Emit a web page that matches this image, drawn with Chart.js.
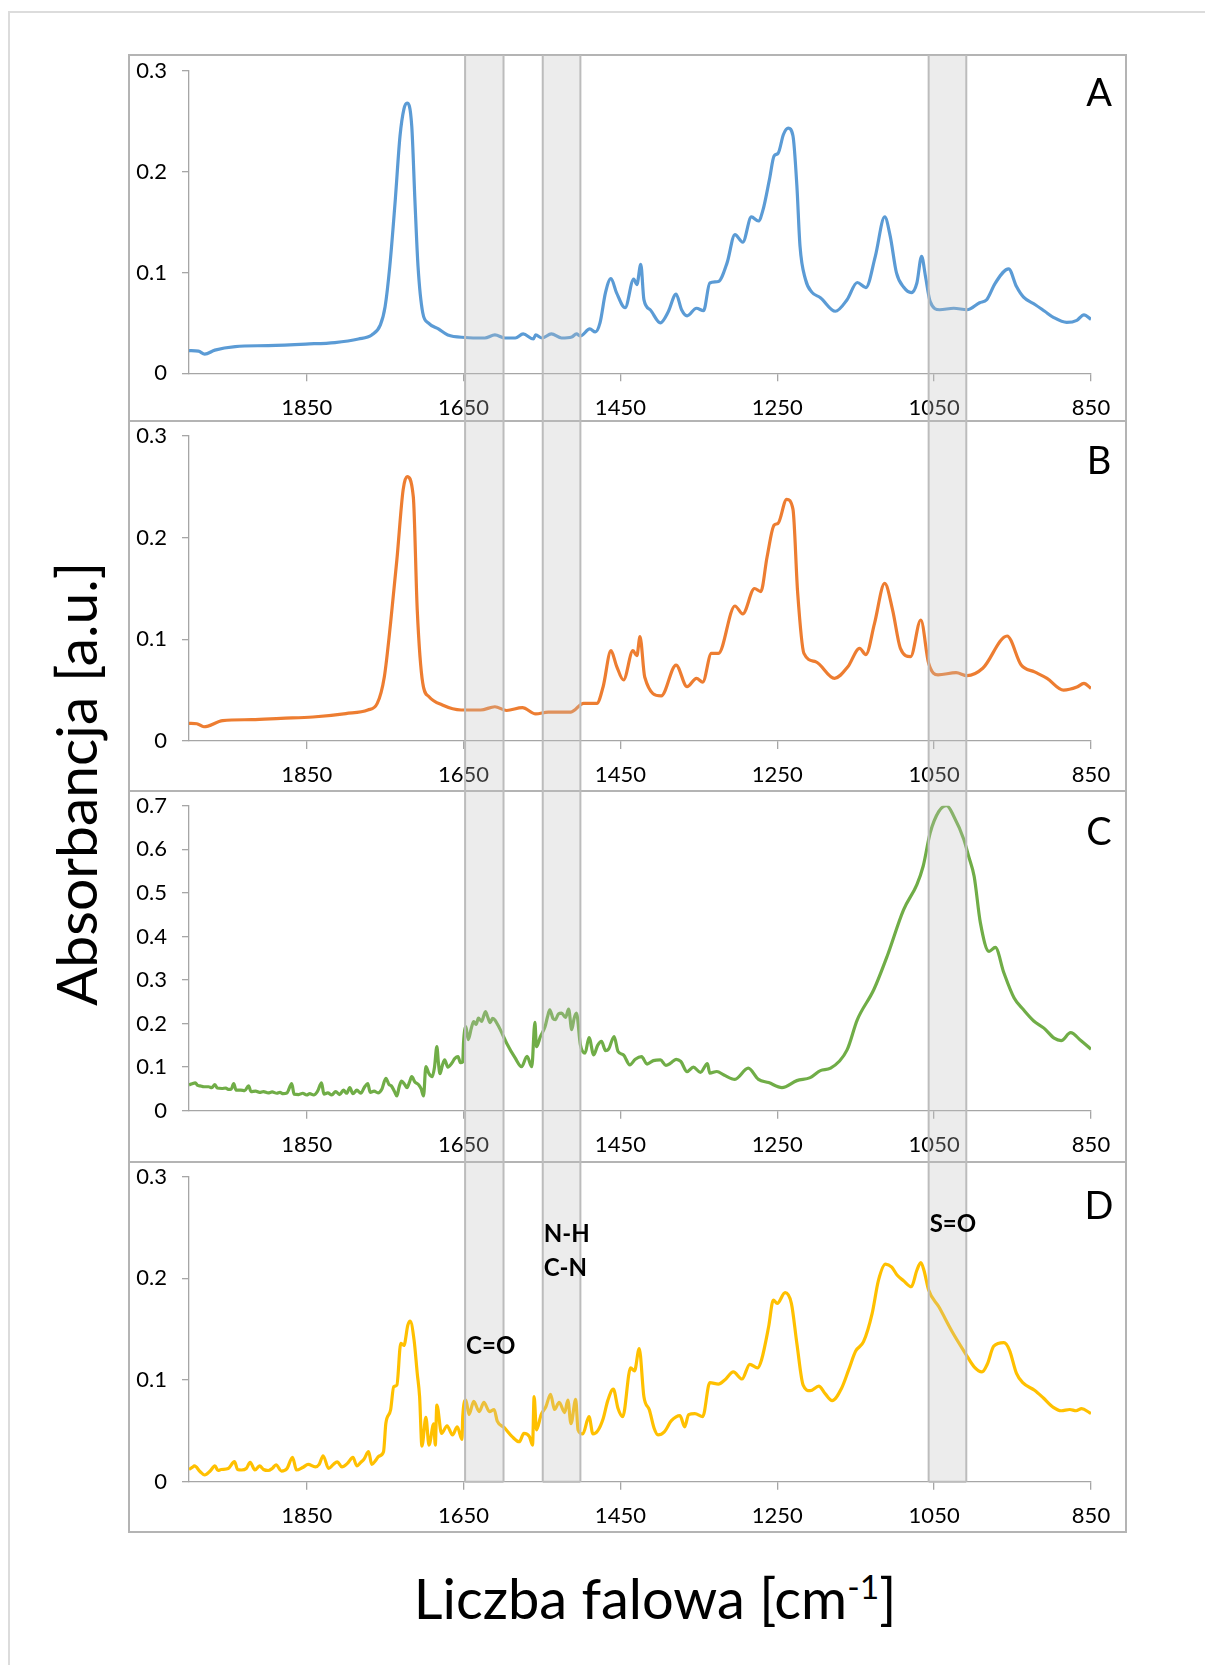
<!DOCTYPE html>
<html>
<head>
<meta charset="utf-8">
<script src="https://cdn.jsdelivr.net/npm/chart.js@4.4.1/dist/chart.umd.min.js"></script>
<style>
    html, body { margin: 0; padding: 0; background: #fff; }
    body { width: 1205px; height: 1665px; position: relative; overflow: hidden; font-family: Lato, sans-serif; color: #000; }
    .outer { position: absolute; left: 8px; top: 11px; width: 1300px; height: 1700px; border-left: 2px solid #dcdcdc; border-top: 2px solid #dcdcdc; }
    .panel { position: absolute; left: 128px; width: 999px; box-sizing: border-box; border: 2px solid #b4b4b4; border-bottom: none; }
    .panel.last { border-bottom: 2px solid #b4b4b4; }
    canvas { position: absolute; left: 129px; }
    .ytitle { position: absolute; left: 75px; top: 784px; transform: translate(-50%, -50%) rotate(-90deg); white-space: nowrap; font-size: 57px; line-height: 1; }
    .xtitle { position: absolute; left: 655px; top: 1570px; transform: translateX(-50%); white-space: nowrap; font-size: 56px; line-height: 1; }
    .xtitle sup { font-size: 0.6em; line-height: 0; vertical-align: 0.6em; }
</style>
</head>
<body>
<div class="outer"></div>
<div class="panel" style="top:54px;height:367px"></div>
<div class="panel" style="top:420px;height:370px"></div>
<div class="panel" style="top:790px;height:371px"></div>
<div class="panel last" style="top:1161px;height:372px"></div>

<canvas id="chartA" width="997" height="366" style="top:55px"></canvas>
<canvas id="chartB" width="997" height="370" style="top:421px"></canvas>
<canvas id="chartC" width="997" height="371" style="top:791px"></canvas>
<canvas id="chartD" width="997" height="371" style="top:1162px"></canvas>

<div class="ytitle">Absorbancja [a.u.]</div>
<div class="xtitle">Liczba falowa [cm<sup>-1</sup>]</div>

<script>
// wavenumber ticks and absorbance ticks
const xTicks = [1850, 1650, 1450, 1250, 1050, 850];
const yTicksSmall = [0, 0.1, 0.2, 0.3];
const yTicksC = [0, 0.1, 0.2, 0.3, 0.4, 0.5, 0.6, 0.7];

// grey bands (from, to) in cm-1
const bands = [[1648, 1599], [1549, 1501], [1057, 1009]];

// panel A
const waveA = [2000, 1988, 1980, 1967, 1941, 1899, 1851, 1814, 1784, 1767, 1756, 1750, 1744, 1737, 1731, 1726, 1722, 1716, 1712, 1708,
    1702, 1695, 1682, 1670, 1648, 1623, 1610, 1597, 1584, 1574, 1561, 1558, 1550, 1538, 1525, 1512, 1506, 1501, 1489, 1482,
    1476, 1469, 1462, 1455, 1444, 1433, 1429, 1424, 1420, 1412, 1399, 1389, 1379, 1372, 1365, 1353, 1344, 1336, 1325, 1314,
    1304, 1294, 1283, 1274, 1268, 1260, 1254, 1249, 1242, 1236, 1230, 1225, 1221, 1214, 1206, 1195, 1176, 1161, 1148, 1137,
    1125, 1113, 1106, 1098, 1089, 1079, 1072, 1066, 1061, 1055, 1043, 1025, 1008, 992, 983, 972, 955, 945, 936, 921,
    909, 898, 881, 868, 859, 850];
const absA = [0.0225, 0.022, 0.019, 0.023, 0.0265, 0.0275, 0.029, 0.0305, 0.034, 0.038, 0.048, 0.066, 0.106, 0.172, 0.235, 0.262, 0.268, 0.245, 0.172, 0.106,
    0.060, 0.050, 0.044, 0.038, 0.0355, 0.035, 0.038, 0.035, 0.035, 0.039, 0.034, 0.038, 0.035, 0.039, 0.035, 0.036, 0.039, 0.037, 0.044, 0.041,
    0.050, 0.080, 0.094, 0.080, 0.065, 0.0935, 0.088, 0.108, 0.073, 0.063, 0.050, 0.061, 0.0785, 0.063, 0.057, 0.0645, 0.062, 0.0895, 0.091, 0.1095,
    0.1375, 0.130, 0.155, 0.151, 0.1625, 0.192, 0.2155, 0.218, 0.237, 0.243, 0.2355, 0.186, 0.126, 0.093, 0.0805, 0.075, 0.0615, 0.073, 0.090, 0.085,
    0.116, 0.155, 0.136, 0.0995, 0.0855, 0.080, 0.0895, 0.116, 0.096, 0.071, 0.063, 0.0645, 0.063, 0.070, 0.073, 0.0895, 0.1035, 0.086, 0.0755, 0.068,
    0.0615, 0.0555, 0.0505, 0.0525, 0.058, 0.0535];

// panel B
const waveB = [2000, 1990, 1981, 1957, 1920, 1883, 1842, 1800, 1772, 1760, 1751, 1743, 1735, 1727, 1722, 1714, 1709, 1702, 1694, 1677,
    1653, 1628, 1610, 1595, 1575, 1558, 1542, 1513, 1497, 1480, 1472, 1462, 1455, 1446, 1434, 1429, 1425, 1419, 1398, 1379,
    1365, 1353, 1345, 1334, 1325, 1304, 1294, 1279, 1271, 1263, 1254, 1249, 1238, 1230, 1224, 1216, 1201, 1177, 1160, 1145,
    1137, 1126, 1113, 1103, 1093, 1080, 1067, 1057, 1045, 1022, 1008, 988, 957, 939, 922, 906, 885, 868, 859, 850];
const absB = [0.0174, 0.017, 0.014, 0.020, 0.021, 0.0223, 0.0236, 0.027, 0.0305, 0.037, 0.063, 0.116, 0.178, 0.247, 0.260, 0.240, 0.129, 0.057, 0.0436, 0.0354,
    0.0305, 0.0305, 0.0337, 0.030, 0.0328, 0.0266, 0.0285, 0.0285, 0.037, 0.037, 0.0534, 0.0888, 0.074, 0.060, 0.0888, 0.084, 0.1026, 0.063, 0.0443, 0.0747,
    0.0534, 0.0616, 0.058, 0.0862, 0.0862, 0.1328, 0.125, 0.150, 0.147, 0.181, 0.2124, 0.214, 0.2377, 0.228, 0.146, 0.0862, 0.078, 0.0616, 0.073, 0.0911,
    0.085, 0.1157, 0.155, 0.129, 0.0911, 0.083, 0.119, 0.0764, 0.065, 0.0672, 0.0643, 0.0715, 0.1033, 0.0747, 0.068, 0.0616, 0.050, 0.053, 0.0567, 0.0518];

// panel C
const waveC = [2000, 1996, 1992, 1989, 1986, 1981, 1975, 1971, 1967, 1964, 1958, 1953, 1950, 1946, 1943, 1940, 1934, 1929, 1924, 1921,
    1915, 1910, 1905, 1899, 1894, 1888, 1884, 1880, 1875, 1869, 1866, 1860, 1855, 1850, 1846, 1841, 1836, 1831, 1828, 1823,
    1818, 1813, 1808, 1803, 1799, 1795, 1791, 1786, 1781, 1776, 1772, 1769, 1764, 1759, 1754, 1749, 1745, 1742, 1738, 1735,
    1732, 1729, 1725, 1722, 1719, 1716, 1712, 1707, 1704, 1701, 1698, 1694, 1690, 1687, 1684, 1682, 1680, 1677, 1674, 1670,
    1665, 1661, 1657, 1654, 1651, 1650, 1647, 1644, 1640, 1637, 1634, 1631, 1627, 1622, 1619, 1616, 1613, 1610, 1606, 1603,
    1595, 1584, 1576, 1569, 1563, 1559, 1557, 1552, 1546, 1543, 1540, 1536, 1533, 1529, 1525, 1520, 1516, 1512, 1509, 1506,
    1501, 1495, 1490, 1484, 1479, 1474, 1469, 1465, 1458, 1453, 1446, 1438, 1431, 1423, 1416, 1408, 1399, 1392, 1386, 1379,
    1373, 1365, 1357, 1348, 1339, 1336, 1327, 1318, 1304, 1287, 1274, 1261, 1244, 1225, 1208, 1195, 1182, 1161, 1148, 1127,
    1110, 1089, 1072, 1064, 1055, 1044, 1034, 1025, 1012, 1006, 999, 991, 980, 972, 961, 948, 936, 923, 910, 897,
    888, 876, 863, 850];
const absC = [0.059, 0.062, 0.064, 0.058, 0.057, 0.055, 0.055, 0.053, 0.060, 0.052, 0.051, 0.052, 0.049, 0.050, 0.062, 0.047, 0.047, 0.046, 0.057, 0.044,
    0.045, 0.042, 0.044, 0.041, 0.043, 0.040, 0.042, 0.039, 0.041, 0.062, 0.038, 0.037, 0.040, 0.036, 0.039, 0.036, 0.045, 0.064, 0.038, 0.041,
    0.036, 0.044, 0.037, 0.047, 0.040, 0.053, 0.039, 0.047, 0.040, 0.055, 0.062, 0.042, 0.045, 0.041, 0.050, 0.0745, 0.060, 0.057, 0.044, 0.034,
    0.055, 0.068, 0.060, 0.053, 0.065, 0.078, 0.066, 0.059, 0.050, 0.034, 0.101, 0.085, 0.078, 0.100, 0.147, 0.110, 0.085, 0.104, 0.1165, 0.100,
    0.109, 0.120, 0.124, 0.110, 0.112, 0.156, 0.193, 0.163, 0.190, 0.2045, 0.198, 0.2125, 0.205, 0.2275, 0.214, 0.202, 0.212, 0.208, 0.196, 0.1855,
    0.155, 0.1205, 0.101, 0.125, 0.101, 0.2025, 0.147, 0.170, 0.193, 0.215, 0.2315, 0.212, 0.209, 0.222, 0.224, 0.214, 0.233, 0.186, 0.212, 0.224,
    0.151, 0.132, 0.168, 0.128, 0.150, 0.159, 0.138, 0.1415, 0.170, 0.136, 0.128, 0.105, 0.118, 0.124, 0.107, 0.115, 0.1165, 0.104, 0.109, 0.118,
    0.113, 0.0897, 0.100, 0.088, 0.108, 0.086, 0.090, 0.082, 0.072, 0.0975, 0.072, 0.0645, 0.053, 0.069, 0.076, 0.092, 0.0975, 0.1395, 0.2085, 0.2775,
    0.354, 0.461, 0.519, 0.561, 0.638, 0.687, 0.700, 0.676, 0.622, 0.584, 0.538, 0.431, 0.3655, 0.3747, 0.316, 0.2585, 0.2315, 0.206, 0.1895, 0.1665,
    0.161, 0.179, 0.161, 0.141];

// panel D
const waveD = [2000, 1996, 1993, 1986, 1980, 1973, 1967, 1963, 1959, 1950, 1942, 1938, 1933, 1927, 1922, 1916, 1910, 1905, 1899, 1894,
    1889, 1882, 1875, 1868, 1863, 1855, 1848, 1839, 1834, 1829, 1822, 1816, 1811, 1805, 1798, 1791, 1786, 1781, 1777, 1771,
    1767, 1762, 1758, 1752, 1749, 1743, 1739, 1735, 1730, 1726, 1721, 1718, 1713, 1709, 1706, 1703, 1698, 1694, 1688, 1686,
    1684, 1678, 1671, 1664, 1658, 1652, 1651, 1647, 1643, 1637, 1630, 1624, 1617, 1611, 1607, 1598, 1588, 1579, 1573, 1566,
    1562, 1560, 1557, 1551, 1545, 1539, 1534, 1528, 1521, 1517, 1513, 1507, 1504, 1498, 1490, 1485, 1479, 1472, 1466, 1459,
    1453, 1447, 1437, 1432, 1426, 1420, 1413, 1407, 1402, 1394, 1385, 1374, 1368, 1363, 1355, 1345, 1336, 1325, 1317, 1306,
    1295, 1285, 1275, 1270, 1261, 1255, 1250, 1240, 1232, 1225, 1217, 1208, 1197, 1189, 1180, 1168, 1159, 1150, 1140, 1129,
    1121, 1112, 1104, 1097, 1089, 1079, 1072, 1067, 1063, 1057, 1044, 1027, 1010, 999, 989, 982, 974, 961, 954, 945,
    937, 922, 911, 898, 888, 877, 869, 862, 852, 850];
const absD = [0.012, 0.014, 0.0155, 0.010, 0.0066, 0.0105, 0.0155, 0.011, 0.012, 0.013, 0.0197, 0.012, 0.0115, 0.013, 0.019, 0.0115, 0.0155, 0.012, 0.011, 0.013,
    0.0165, 0.0105, 0.013, 0.024, 0.0115, 0.014, 0.017, 0.0145, 0.017, 0.0255, 0.013, 0.017, 0.0195, 0.0145, 0.018, 0.024, 0.0155, 0.019, 0.022, 0.0295,
    0.017, 0.021, 0.025, 0.0295, 0.0574, 0.0705, 0.0934, 0.095, 0.136, 0.134, 0.154, 0.158, 0.139, 0.1066, 0.0836, 0.035, 0.0633, 0.036, 0.057, 0.036,
    0.0754, 0.0475, 0.055, 0.046, 0.054, 0.0417, 0.064, 0.0803, 0.066, 0.079, 0.069, 0.078, 0.069, 0.071, 0.0596, 0.0531, 0.0443, 0.0393, 0.0475, 0.0443,
    0.036, 0.0836, 0.051, 0.066, 0.0737, 0.086, 0.071, 0.078, 0.068, 0.0803, 0.057, 0.081, 0.051, 0.047, 0.064, 0.047, 0.050, 0.062, 0.080, 0.091,
    0.072, 0.064, 0.112, 0.109, 0.131, 0.0836, 0.0705, 0.0525, 0.046, 0.049, 0.060, 0.065, 0.054, 0.066, 0.067, 0.064, 0.0974, 0.096, 0.100, 0.108,
    0.101, 0.1155, 0.112, 0.120, 0.1524, 0.1787, 0.1754, 0.186, 0.1754, 0.136, 0.095, 0.0895, 0.094, 0.0866, 0.0797, 0.092, 0.110, 0.1285, 0.1377, 0.1656,
    0.198, 0.214, 0.211, 0.203, 0.1977, 0.1918, 0.208, 0.2155, 0.208, 0.1885, 0.172, 0.1475, 0.126, 0.113, 0.108, 0.116, 0.1334, 0.1367, 0.1295, 0.1066,
    0.0974, 0.090, 0.0826, 0.0731, 0.0698, 0.071, 0.0698, 0.0718, 0.068, 0.067];

// labels written inside panel D
const noteTexts = ['C=O', 'N-H', 'C-N', 'S=O'];
const noteWaves = [1648, 1549, 1549, 1057];
const noteValues = [0.1334, 0.243, 0.2096, 0.253];

const FONT = 'Lato, "Open Sans", sans-serif';

const overlayPlugin = {
    id: 'overlay',
    afterDraw(chart, args, opts) {
        const { ctx, chartArea, scales } = chart;
        const bottom = opts.last ? chartArea.bottom : chart.height;
        ctx.save();
        bands.forEach(([a, b]) => {
            const x1 = scales.x.getPixelForValue(a);
            const x2 = scales.x.getPixelForValue(b);
            ctx.fillStyle = 'rgba(191,191,191,0.3)';
            ctx.fillRect(x1, 0, x2 - x1, bottom);
            ctx.strokeStyle = '#bcbcbc';
            ctx.lineWidth = 2;
            ctx.beginPath();
            ctx.moveTo(x1, 0); ctx.lineTo(x1, bottom);
            ctx.moveTo(x2, 0); ctx.lineTo(x2, bottom);
            if (opts.last) { ctx.moveTo(x1, bottom); ctx.lineTo(x2, bottom); }
            ctx.stroke();
        });

        ctx.fillStyle = '#000';
        ctx.textBaseline = 'middle';
        ctx.textAlign = 'center';
        ctx.font = '38px ' + FONT;
        ctx.fillText(opts.letter, 970, opts.letterY);

        if (opts.notes) {
            ctx.font = 'bold 24px ' + FONT;
            ctx.textAlign = 'left';
            noteTexts.forEach((t, i) => {
                ctx.fillText(t, scales.x.getPixelForValue(noteWaves[i]) + 1, scales.y.getPixelForValue(noteValues[i]));
            });
        }
        ctx.restore();
    }
};

// scale labels must not push the plot area around
function noPad(s) {
    s.paddingTop = 0;
    s.paddingBottom = 0;
    s.paddingLeft = 0;
    s.paddingRight = 0;
}

function makePanel(id, waves, values, color, yTicks, top, xHeight, letter, letterY, last) {
    const yMax = yTicks[yTicks.length - 1];
    return new Chart(document.getElementById(id), {
        type: 'line',
        data: {
            datasets: [{
                data: waves.map((w, i) => ({ x: w, y: values[i] })),
                borderColor: color,
                borderWidth: 3.2,
                pointRadius: 0,
                cubicInterpolationMode: 'monotone',
                fill: false
            }]
        },
        options: {
            responsive: false,
            animation: false,
            events: [],
            layout: { autoPadding: false, padding: { left: 0, right: 35, top: top, bottom: 0 } },
            plugins: {
                legend: { display: false },
                tooltip: { enabled: false },
                overlay: { letter, letterY, last, notes: last }
            },
            scales: {
                x: {
                    type: 'linear',
                    min: 850,
                    max: 2000,
                    reverse: true,
                    afterBuildTicks: s => { s.ticks = xTicks.map(v => ({ value: v })); },
                    afterFit: s => { s.height = xHeight; noPad(s); },
                    ticks: { font: { family: FONT, size: 22 }, color: '#000', padding: 13, maxRotation: 0, autoSkip: false, callback: v => String(v) },
                    grid: { drawOnChartArea: false, drawTicks: true, tickLength: 8, color: '#a6a6a6', lineWidth: 1.3 },
                    border: { display: true, color: '#a6a6a6', width: 1.3 }
                },
                y: {
                    min: 0,
                    max: yMax,
                    afterBuildTicks: s => { s.ticks = yTicks.map(v => ({ value: v })); },
                    afterFit: s => { s.width = 60; noPad(s); },
                    ticks: { font: { family: FONT, size: 22 }, color: '#000', padding: 15, callback: v => v === 0 ? '0' : v.toFixed(1) },
                    grid: { drawOnChartArea: false, drawTicks: true, tickLength: 7, color: '#a6a6a6', lineWidth: 1.3 },
                    border: { display: true, color: '#a6a6a6', width: 1.3 }
                }
            }
        },
        plugins: [overlayPlugin]
    });
}

makePanel('chartA', waveA, absA, '#5b9bd5', yTicksSmall, 15.7, 47.7, 'A', 39, false);
makePanel('chartB', waveB, absB, '#ed7d31', yTicksSmall, 15, 50, 'B', 41, false);
makePanel('chartC', waveC, absC, '#70ad47', yTicksC, 14.7, 51.3, 'C', 42, false);
makePanel('chartD', waveD, absD, '#ffc000', yTicksSmall, 14.7, 51.3, 'D', 45, true);
</script>
</body>
</html>
